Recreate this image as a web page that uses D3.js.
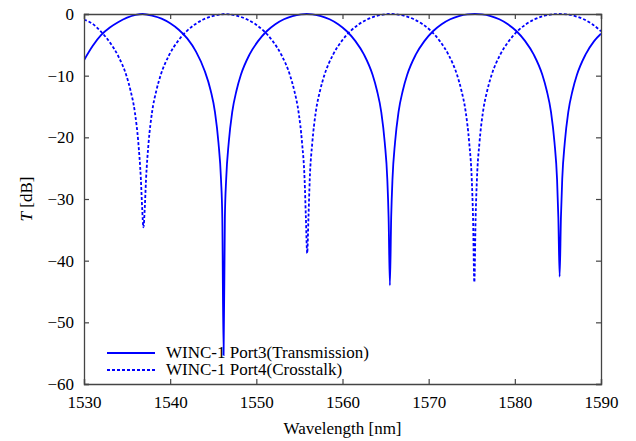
<!DOCTYPE html>
<html>
<head>
<meta charset="utf-8">
<script src="https://cdn.jsdelivr.net/npm/d3@7"></script>
<style>
  body { margin: 0; background: #fff; }
  text { font-family: "Liberation Serif", "Times New Roman", serif; }
</style>
</head>
<body>
<div id="chart"></div>
<script>
// values (wavelength in nm, T in dB)
const transWl = [1530, 1531, 1532, 1533, 1534, 1535, 1536, 1536.8, 1538, 1539, 1540, 1541, 1542, 1543, 1544,
  1544.7, 1545.2, 1545.6, 1545.9, 1546.05, 1546.2, 1546.35, 1546.5, 1546.8, 1547.2, 1547.7, 1548.2,
  1549.2, 1550.2, 1551.2, 1552.2, 1553.2, 1554.2, 1555.2, 1555.85, 1556.5, 1557.5, 1558.5, 1559.5,
  1560.5, 1561.5, 1562.5, 1563.5, 1564.0, 1564.5, 1564.9, 1565.2, 1565.35, 1565.5, 1565.65, 1565.8,
  1566.1, 1566.5, 1567.0, 1567.5, 1568.5, 1569.5, 1570.5, 1571.5, 1572.5, 1573.5, 1574.5, 1575.35,
  1576.2, 1577.2, 1578.2, 1579.2, 1580.2, 1581.2, 1582.2, 1583.2, 1583.7, 1584.2, 1584.6, 1584.9,
  1585.05, 1585.2, 1585.35, 1585.5, 1585.8, 1586.2, 1586.7, 1587.2, 1588.2, 1589.2, 1590];
const transDb = [-7.5, -5.2, -3.4, -2.2, -1.3, -0.6, -0.15, 0, -0.3, -0.75, -1.5, -2.55, -4.0, -6.1, -9.2,
  -12.4, -15.9, -20.8, -26.8, -33, -55.3, -33, -26.8, -20.8, -15.9, -12.4, -9.9,
  -6.6, -4.4, -2.8, -1.66, -0.86, -0.34, -0.06, 0, -0.06, -0.34, -0.86, -1.66,
  -2.8, -4.4, -6.6, -9.9, -12.4, -15.9, -20.8, -26.8, -33, -44.0, -33, -26.8,
  -20.8, -15.9, -12.4, -9.9, -6.6, -4.4, -2.8, -1.66, -0.86, -0.34, -0.06, 0,
  -0.06, -0.34, -0.86, -1.66, -2.8, -4.4, -6.6, -9.9, -12.4, -15.9, -20.8, -26.8,
  -33, -42.6, -33, -26.8, -20.8, -15.9, -12.4, -9.9, -6.6, -4.4, -3.2];

const crossWl = [1530, 1531, 1532, 1533, 1534, 1534.9, 1535.4, 1535.9, 1536.3, 1536.6, 1536.75, 1536.9,
  1537.05, 1537.2, 1537.5, 1537.9, 1538.4, 1538.9, 1539.9, 1540.9, 1541.9, 1542.9, 1543.9, 1544.9,
  1545.9, 1546.4, 1546.9, 1547.9, 1548.9, 1549.9, 1550.9, 1551.9, 1552.9, 1553.9, 1554.4, 1554.9,
  1555.3, 1555.6, 1555.75, 1555.9, 1556.05, 1556.2, 1556.5, 1556.9, 1557.4, 1557.9, 1558.9, 1559.9,
  1560.9, 1561.9, 1562.9, 1563.9, 1564.9, 1565.6, 1566.3, 1567.3, 1568.3, 1569.3, 1570.3, 1571.3,
  1572.3, 1573.3, 1573.8, 1574.3, 1574.7, 1575.0, 1575.15, 1575.3, 1575.45, 1575.6, 1575.9, 1576.3,
  1576.8, 1577.3, 1578.3, 1579.3, 1580.3, 1581.3, 1582.3, 1583.3, 1584.3, 1585.1, 1586.0, 1587.0,
  1588.0, 1589.0, 1590];
const crossDb = [-0.9, -1.6, -2.9, -4.6, -6.9, -9.9, -12.4, -15.9, -20.8, -26.8, -31.5, -34.6,
  -31.5, -26.8, -20.8, -15.9, -12.4, -9.9, -6.6, -4.4, -2.8, -1.66, -0.86, -0.34,
  -0.06, 0, -0.06, -0.34, -0.86, -1.66, -2.8, -4.4, -6.6, -9.9, -12.4, -15.9,
  -20.8, -26.8, -33, -38.8, -33, -26.8, -20.8, -15.9, -12.4, -9.9, -6.6, -4.4,
  -2.8, -1.66, -0.86, -0.34, -0.06, 0, -0.06, -0.34, -0.86, -1.66, -2.8, -4.4,
  -6.6, -9.9, -12.4, -15.9, -20.8, -26.8, -33, -43.5, -33, -26.8, -20.8, -15.9,
  -12.4, -9.9, -6.6, -4.4, -2.8, -1.66, -0.86, -0.34, -0.06, 0, -0.06, -0.34,
  -0.86, -1.66, -2.8];

const xTicks = [1530, 1540, 1550, 1560, 1570, 1580, 1590];
const yTicks = [0, -10, -20, -30, -40, -50, -60];
const seriesNames = ["WINC-1 Port3(Transmission)", "WINC-1 Port4(Crosstalk)"];

const width = 636;
const height = 441;
const margin = { top: 14, right: 35, bottom: 57, left: 84 };
const blue = "#0000ff";
const frameColor = "#444";
const fontSize = "17px";

const svg = d3.select("#chart")
  .append("svg")
  .attr("width", width)
  .attr("height", height);

const x = d3.scaleLinear()
  .domain([1530, 1590])
  .range([margin.left, width - margin.right]);

const y = d3.scaleLinear()
  .domain([-60, 0])
  .range([height - margin.bottom, margin.top]);

svg.append("clipPath")
  .attr("id", "plot-clip")
  .append("rect")
  .attr("x", x(1530))
  .attr("y", y(0) - 1)
  .attr("width", x(1590) - x(1530))
  .attr("height", y(-60) - y(0) + 2);

const line = d3.line()
  .x(d => x(d[0]))
  .y(d => y(d[1]))
  .curve(d3.curveMonotoneX);

const transData = transWl.map((w, i) => [w, transDb[i]]);
const crossData = crossWl.map((w, i) => [w, crossDb[i]]);

const plot = svg.append("g").attr("clip-path", "url(#plot-clip)");

plot.append("path")
  .datum(crossData)
  .attr("fill", "none")
  .attr("stroke", blue)
  .attr("stroke-width", 1.8)
  .attr("stroke-dasharray", "3,2")
  .attr("d", line);

plot.append("path")
  .datum(transData)
  .attr("fill", "none")
  .attr("stroke", blue)
  .attr("stroke-width", 1.8)
  .attr("d", line);

// axes: ticks point inward on all four sides
const tickLen = 5;
const fmt = d => (d < 0 ? "\u2212" + Math.abs(d) : String(d));

const bottomAxis = svg.append("g")
  .attr("transform", `translate(0,${y(-60)})`)
  .call(d3.axisBottom(x).tickValues(xTicks).tickSize(-tickLen).tickPadding(12).tickFormat(d3.format("d")));

const topAxis = svg.append("g")
  .attr("transform", `translate(0,${y(0)})`)
  .call(d3.axisTop(x).tickValues(xTicks).tickSize(-tickLen).tickFormat(""));

const leftAxis = svg.append("g")
  .attr("transform", `translate(${x(1530)},0)`)
  .call(d3.axisLeft(y).tickValues(yTicks).tickSize(-tickLen).tickPadding(10).tickFormat(fmt));

const rightAxis = svg.append("g")
  .attr("transform", `translate(${x(1590)},0)`)
  .call(d3.axisRight(y).tickValues(yTicks).tickSize(-tickLen).tickFormat(""));

[bottomAxis, topAxis, leftAxis, rightAxis].forEach(g => {
  g.select(".domain").attr("stroke", frameColor).attr("stroke-width", 1.3);
  g.selectAll(".tick line").attr("stroke", frameColor).attr("stroke-width", 1.2);
  g.selectAll(".tick text")
    .attr("fill", "#000")
    .style("font-family", '"Liberation Serif", serif')
    .style("font-size", fontSize);
});

// axis titles
svg.append("text")
  .attr("x", (x(1530) + x(1590)) / 2)
  .attr("y", 434)
  .attr("text-anchor", "middle")
  .style("font-size", fontSize)
  .text("Wavelength [nm]");

const yTitle = svg.append("text")
  .attr("transform", `translate(32,${(y(0) + y(-60)) / 2}) rotate(-90)`)
  .attr("text-anchor", "middle")
  .style("font-size", fontSize);
yTitle.append("tspan").style("font-style", "italic").text("T");
yTitle.append("tspan").text(" [dB]");

// legend
const legend = svg.append("g");
const legendRows = [
  { name: seriesNames[0], dash: null, yPos: 353 },
  { name: seriesNames[1], dash: "3,2", yPos: 370 }
];
legendRows.forEach(r => {
  legend.append("line")
    .attr("x1", 107).attr("x2", 155)
    .attr("y1", r.yPos).attr("y2", r.yPos)
    .attr("stroke", blue)
    .attr("stroke-width", 1.8)
    .attr("stroke-dasharray", r.dash);
  legend.append("text")
    .attr("x", 166)
    .attr("y", r.yPos + 5)
    .style("font-size", fontSize)
    .text(r.name);
});
</script>
</body>
</html>
